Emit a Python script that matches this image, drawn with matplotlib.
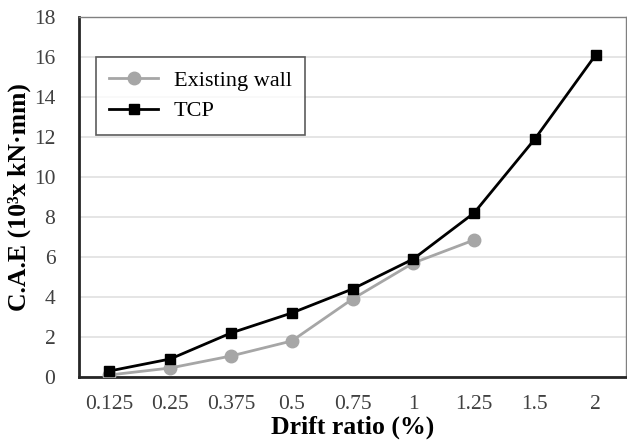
import matplotlib
matplotlib.use('Agg')
from matplotlib import pyplot as plt

plt.rcParams['font.family'] = ['Liberation Serif', 'DejaVu Serif']

drift = ['0.125', '0.25', '0.375', '0.5', '0.75', '1', '1.25', '1.5', '2']
existing_wall = [0.1, 0.45, 1.05, 1.8, 3.9, 5.7, 6.85]
tcp = [0.3, 0.9, 2.2, 3.2, 4.4, 5.9, 8.2, 11.9, 16.1]

fig = plt.figure(figsize=(6.27, 4.43), dpi=100)
ax = fig.add_axes([79 / 627, 66 / 443, 547 / 627, 360 / 443])

x = list(range(len(drift)))
ax.plot(x[:len(existing_wall)], existing_wall, color='#a6a6a6', lw=2,
        marker='o', ms=9, label='Existing wall', zorder=3)
ax.plot(x, tcp, color='black', lw=2, marker='s', ms=7.5, label='TCP', zorder=4)

ax.set_xlim(-0.5, len(drift) - 0.5)
ax.set_ylim(0, 18)
ax.set_xticks(x)
ax.set_xticklabels(drift)
ax.set_yticks(range(0, 19, 2))
ax.tick_params(length=0, labelsize=15.5, labelcolor='#404040')
ax.tick_params(axis='x', pad=13)
ax.tick_params(axis='y', pad=17)
ax.yaxis.grid(True, color='#e0e0e0', lw=1.2)
ax.set_axisbelow(True)

for s in ['top', 'right']:
    ax.spines[s].set_color('#808080')
    ax.spines[s].set_linewidth(1)
for s in ['left', 'bottom']:
    ax.spines[s].set_color('#262626')
    ax.spines[s].set_linewidth(2)

ax.set_xlabel('Drift ratio (%)', fontsize=18.5, fontweight='bold', labelpad=1)
ax.set_ylabel('C.A.E (10³x kN·mm)', fontsize=18.5, fontweight='bold', labelpad=2)

leg = ax.legend(loc='upper left', bbox_to_anchor=(0.031, 0.889), fontsize=16,
                frameon=True, fancybox=False, edgecolor='#333333',
                borderpad=0.6, labelspacing=0.45, handlelength=2.2,
                handletextpad=0.7, borderaxespad=0)
leg.get_frame().set_linewidth(1.2)

plt.savefig('out.png')
